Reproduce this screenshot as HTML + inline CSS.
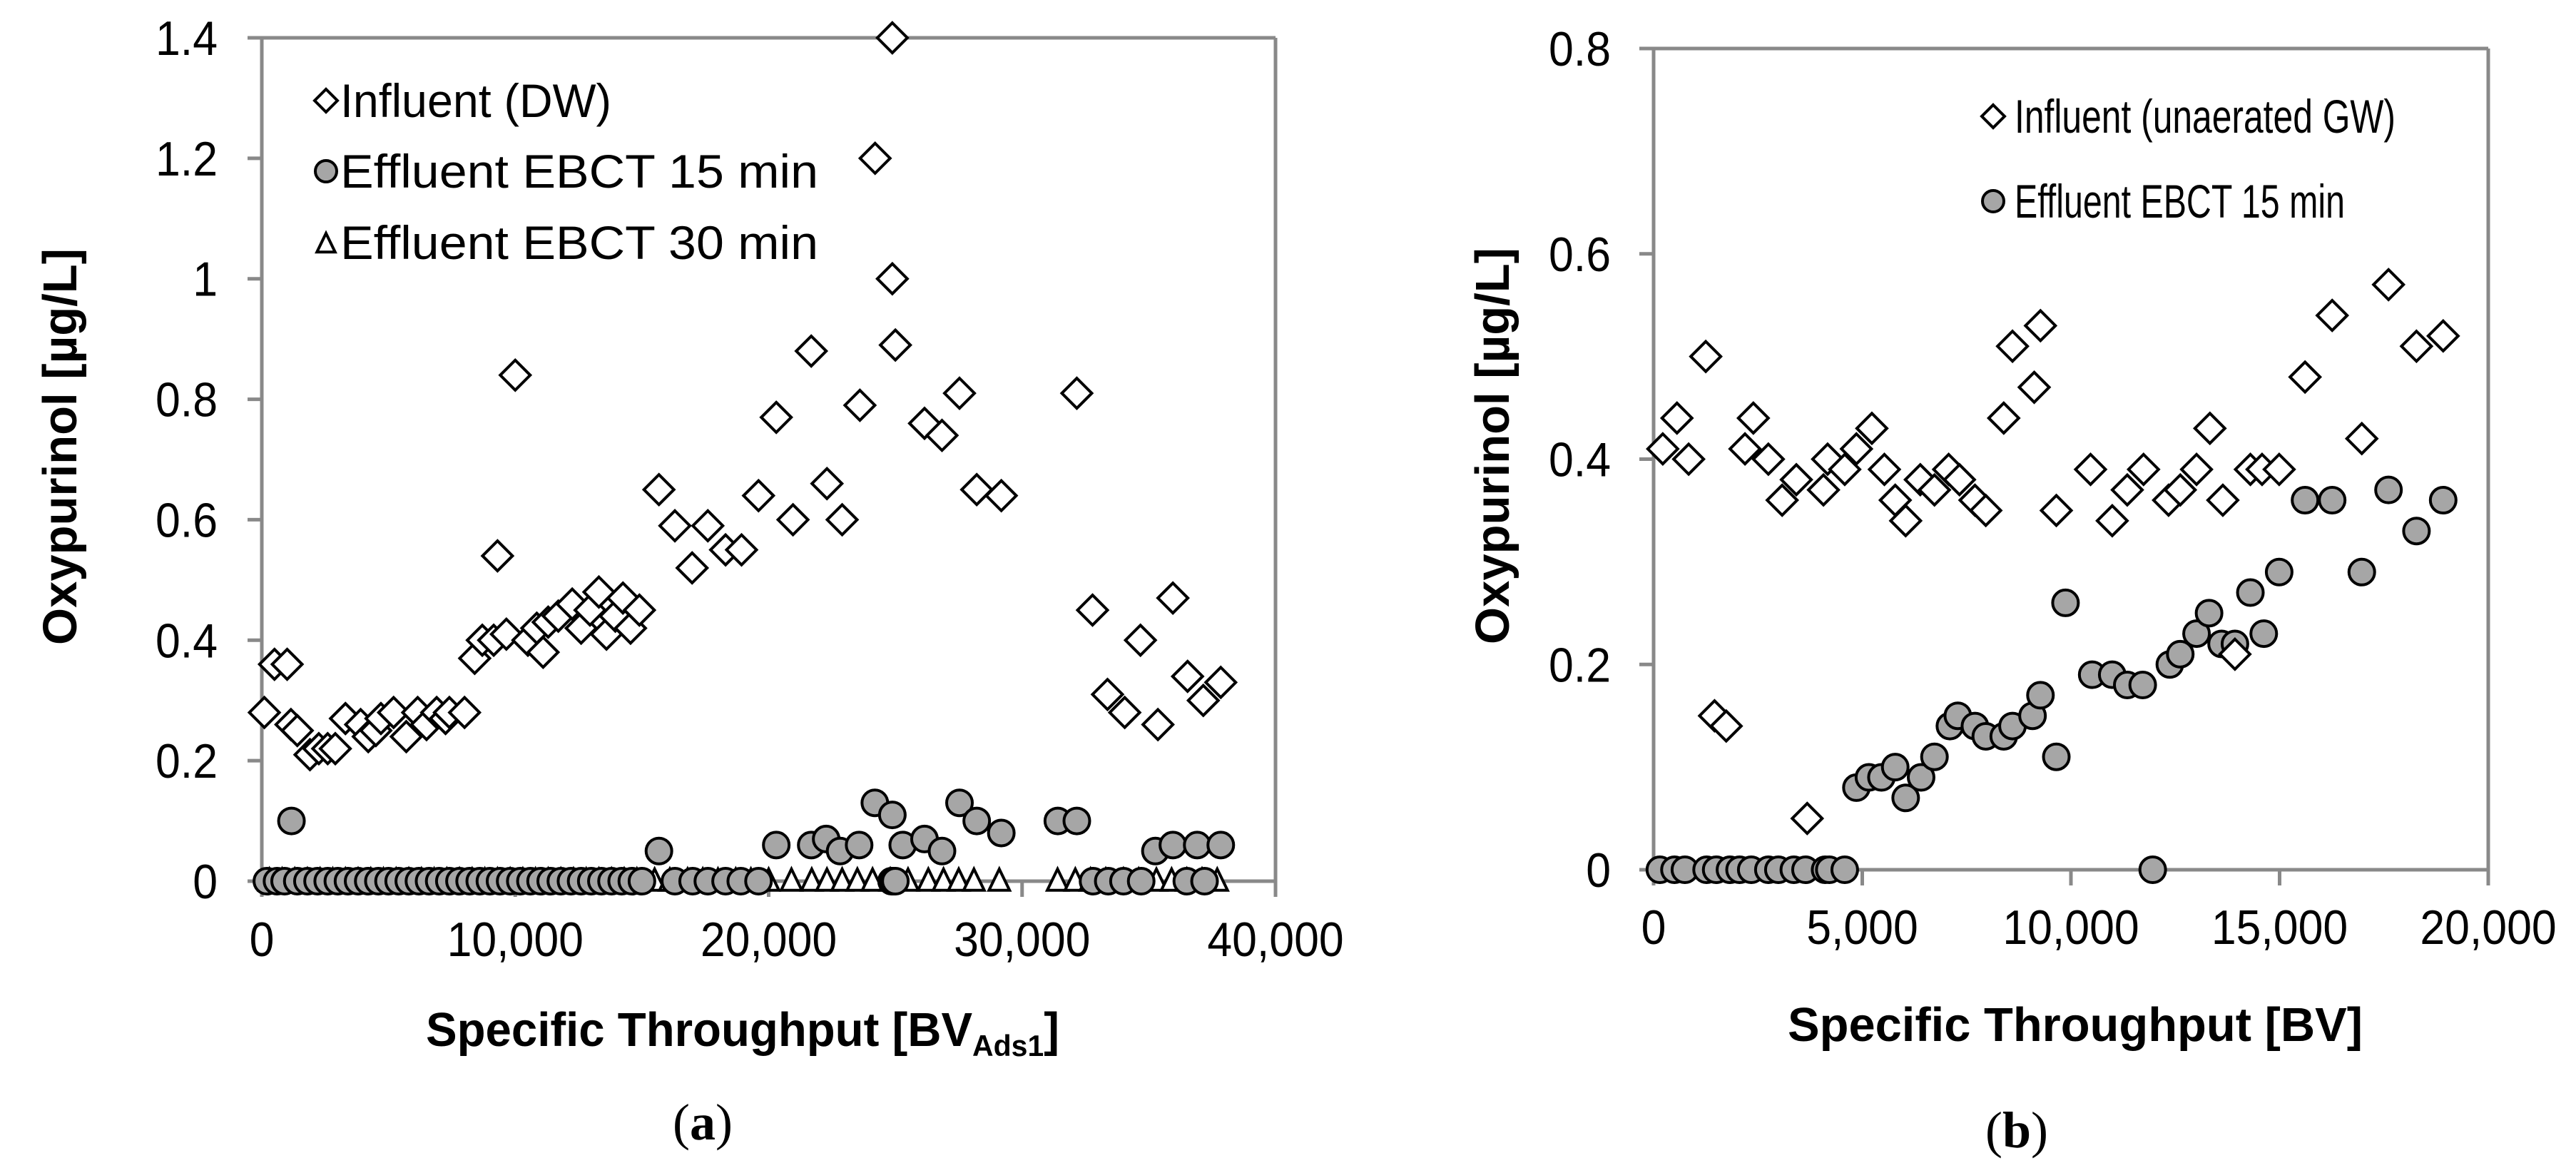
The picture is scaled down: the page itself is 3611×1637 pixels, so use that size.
<!DOCTYPE html>
<html><head><meta charset="utf-8"><title>Oxypurinol breakthrough</title>
<style>
html,body{margin:0;padding:0;background:#fff;}
svg{display:block;}
text{font-family:"Liberation Sans",Arial,sans-serif;fill:#000;}
</style></head>
<body>
<svg id="fig" width="3611" height="1637" viewBox="0 0 3611 1637" xmlns="http://www.w3.org/2000/svg">
  <g id="panelA"></g>
  <g id="panelB"></g>
  <text x="985" y="1597" text-anchor="middle" font-size="72" style="font-family:'Liberation Serif',serif">(<tspan font-weight="bold">a</tspan>)</text>
  <text x="2827" y="1608" text-anchor="middle" font-size="72" style="font-family:'Liberation Serif',serif">(<tspan font-weight="bold">b</tspan>)</text>
</svg>
<script>
// ---------- Panel (a) data ----------
const aInfluentX = [100,500,1000,1150,1400,1900,2250,2600,2900,3300,3900,4200,4500,4700,5200,5700,6150,6500,6900,7250,7400,8000,8400,8700,9150,9300,9650,10000,10500,10850,11100,11300,11700,12250,12600,12950,13300,13600,13950,14250,14550,14900,15670,16300,16980,17600,18300,18930,19600,20300,20960,21680,22300,22900,23600,24200,24880,24880,25000,26150,26840,27530,28210,29180,32160,32780,33370,34050,34670,35360,35950,36530,37150,37840];
const aInfluentY = [0.28,0.36,0.36,0.26,0.25,0.21,0.22,0.22,0.22,0.27,0.26,0.24,0.25,0.27,0.28,0.24,0.28,0.26,0.28,0.27,0.28,0.28,0.37,0.40,0.40,0.54,0.41,0.84,0.40,0.42,0.38,0.43,0.44,0.46,0.42,0.45,0.48,0.41,0.44,0.47,0.42,0.45,0.65,0.59,0.52,0.59,0.55,0.55,0.64,0.77,0.60,0.88,0.66,0.60,0.79,1.20,1.40,1.00,0.89,0.76,0.74,0.81,0.65,0.64,0.81,0.45,0.31,0.28,0.40,0.26,0.47,0.34,0.30,0.33];
const aEff15X = [200,600,900,1170,1400,1800,2200,2600,3000,3400,3800,4200,4600,5000,5400,5800,6200,6600,7000,7400,7800,8200,8600,9000,9400,9800,10200,10600,11000,11400,11800,12200,12600,13000,13400,13800,14200,14600,15000,15670,16300,17000,17600,18300,18900,19600,20300,21680,22270,22820,23570,24190,24850,24880,24900,24950,25000,25290,26150,26840,27530,28210,29180,31410,32160,32800,33400,34000,34700,35260,35950,36500,36910,37200,37840];
const aEff15Y = [0,0,0,0.10,0,0,0,0,0,0,0,0,0,0,0,0,0,0,0,0,0,0,0,0,0,0,0,0,0,0,0,0,0,0,0,0,0,0,0,0.05,0,0,0,0,0,0,0.06,0.06,0.07,0.05,0.06,0.13,0,0.11,0,0,0,0.06,0.07,0.05,0.13,0.10,0.08,0.10,0.10,0,0,0,0,0.05,0.06,0,0.06,0,0.06];
const aEff30X = [300,800,1300,1800,2300,2800,3300,3800,4300,4800,5300,5800,6300,6800,7300,7800,8300,8800,9300,9800,10300,10800,11300,11800,12300,12800,13300,13800,14300,14800,15500,16100,16800,17400,18000,18700,19300,20000,20900,21700,22300,22900,23500,24100,24800,25500,26300,26900,27500,28100,29100,31400,32100,32700,33300,34000,34600,35300,35900,36500,37100,37700];
const aEff30Y = aEff30X.map(function(){return 0;});
const aXTicks = [0,10000,20000,30000,40000];
const aXTickLabels = ["0","10,000","20,000","30,000","40,000"];
const aYTicks = [0,0.2,0.4,0.6,0.8,1,1.2,1.4];
const aYTickLabels = ["0","0.2","0.4","0.6","0.8","1","1.2","1.4"];
const aLegendLabels = ["Influent (DW)","Effluent EBCT 15 min","Effluent EBCT 30 min"];

// ---------- Panel (b) data ----------
const bInfluentX = [220,560,840,1250,1460,1740,2190,2390,2750,3080,3420,3680,4070,4170,4580,4860,5230,5530,5790,6040,6390,6730,7070,7330,7700,7960,8390,8600,9120,9270,9650,10470,10990,11350,11740,12340,12620,13010,13330,13640,13930,14300,14580,14990,15610,16260,16970,17610,18280,18920];
const bInfluentY = [0.41,0.44,0.40,0.50,0.15,0.14,0.41,0.44,0.40,0.36,0.38,0.05,0.37,0.40,0.39,0.41,0.43,0.39,0.36,0.34,0.38,0.37,0.39,0.38,0.36,0.35,0.44,0.51,0.47,0.53,0.35,0.39,0.34,0.37,0.39,0.36,0.37,0.39,0.43,0.36,0.21,0.39,0.39,0.39,0.48,0.54,0.42,0.57,0.51,0.52];
const bEff15X = [150,500,750,1270,1500,1830,2060,2340,2750,2990,3360,3640,4110,4210,4580,4860,5160,5460,5790,6040,6410,6730,7100,7290,7700,7960,8390,8600,9080,9270,9650,9870,10510,10990,11350,11720,11960,12370,12620,13010,13310,13610,13930,14300,14620,14990,15610,16260,16970,17610,18280,18920];
const bEff15Y = [0,0,0,0,0,0,0,0,0,0,0,0,0,0,0,0.08,0.09,0.09,0.10,0.07,0.09,0.11,0.14,0.15,0.14,0.13,0.13,0.14,0.15,0.17,0.11,0.26,0.19,0.19,0.18,0.18,0,0.20,0.21,0.23,0.25,0.22,0.22,0.27,0.23,0.29,0.36,0.36,0.29,0.37,0.33,0.36];
const bXTicks = [0,5000,10000,15000,20000];
const bXTickLabels = ["0","5,000","10,000","15,000","20,000"];
const bYTicks = [0,0.2,0.4,0.6,0.8];
const bYTickLabels = ["0","0.2","0.4","0.6","0.8"];
const bLegendLabels = ["Influent (unaerated GW)","Effluent EBCT 15 min"];

const NS = "http://www.w3.org/2000/svg";
const AXIS = "#898989";
function mk(parent, tag, attrs){
  const e = document.createElementNS(NS, tag);
  for (const k in attrs) e.setAttribute(k, attrs[k]);
  parent.appendChild(e);
  return e;
}
function condense(t, f){
  const w = t.getComputedTextLength();
  if (w > 0) {
    t.setAttribute("textLength", (w*f).toFixed(1));
    t.setAttribute("lengthAdjust", "spacingAndGlyphs");
  }
}
function scale(d0,d1,r0,r1){ return function(v){ return r0 + (v-d0)/(d1-d0)*(r1-r0); }; }

function diamond(g, cx, cy, r){
  return mk(g, "polygon", {points:(cx)+","+(cy-r)+" "+(cx+r)+","+cy+" "+cx+","+(cy+r)+" "+(cx-r)+","+cy, fill:"#fff", stroke:"#000", "stroke-width":4, "stroke-linejoin":"miter"});
}
function circle(g, cx, cy, r){
  return mk(g, "circle", {cx:cx, cy:cy, r:r, fill:"#a6a6a6", stroke:"#000", "stroke-width":4});
}
function triangle(g, cx, cy, r){
  return mk(g, "polygon", {points:cx+","+(cy-r)+" "+(cx+r*0.85)+","+(cy+r*0.75)+" "+(cx-r*0.85)+","+(cy+r*0.75), fill:"#fff", stroke:"#000", "stroke-width":4, "stroke-linejoin":"miter"});
}

function drawAxes(g, o){
  const x = o.x, y = o.y;
  const frame = mk(g, "g", {});
  
  
  mk(frame, "line", {x1:o.L, y1:o.T, x2:o.R, y2:o.T, stroke:AXIS, "stroke-width":5});
  mk(frame, "line", {x1:o.R, y1:o.T, x2:o.R, y2:o.B, stroke:AXIS, "stroke-width":5});
  const yg = mk(g, "g", {});
  
  
  o.yTicks.forEach(function(v,i){
    mk(yg, "line", {x1:o.L-20, y1:y(v), x2:o.L, y2:y(v), stroke:AXIS, "stroke-width":5});
    const t = mk(yg, "text", {x:o.yLabelRight, y:y(v)+24, "text-anchor":"end", "font-size":68});
    t.textContent = o.yLabels[i];
    
    
    condense(t, 0.92);
  });
  mk(yg, "line", {x1:o.L, y1:o.T-2, x2:o.L, y2:o.B+22, stroke:AXIS, "stroke-width":5});
  const xg = mk(g, "g", {});
  
  
  o.xTicks.forEach(function(v,i){
    mk(xg, "line", {x1:x(v), y1:o.B, x2:x(v), y2:o.B+22, stroke:AXIS, "stroke-width":5});
    const t = mk(xg, "text", {x:x(v), y:o.xLabelBase, "text-anchor":"middle", "font-size":68});
    t.textContent = o.xLabels[i];
    
    
    condense(t, 0.92);
  });
  mk(xg, "line", {x1:o.L-20, y1:o.B, x2:o.R, y2:o.B, stroke:AXIS, "stroke-width":5});
}

// ---------- Panel A ----------
(function(){
  const g = document.getElementById("panelA");
  const L=367, R=1788, T=53, B=1235;
  const x = scale(0,40000,L,R), y = scale(0,1.4,B,T);
  drawAxes(g, {L:L,R:R,T:T,B:B,x:x,y:y,xTicks:aXTicks,xLabels:aXTickLabels,yTicks:aYTicks,yLabels:aYTickLabels,yLabelRight:305,xLabelBase:1340});
  const s30 = mk(g,"g",{});
  
  
  aEff30X.forEach(function(v,i){ triangle(s30, x(v), y(aEff30Y[i]), 17); });
  const s15 = mk(g,"g",{});
  
  
  aEff15X.forEach(function(v,i){ circle(s15, x(v), y(aEff15Y[i]), 18); });
  const si = mk(g,"g",{});
  
  
  aInfluentX.forEach(function(v,i){ diamond(si, x(v), y(aInfluentY[i]), 21); });
  const lg = mk(g,"g",{});
  
  
  const rows = [141,240,340];
  const widths = [380,670,670];
  diamond(lg, 457, rows[0], 16);
  circle(lg, 457, rows[1], 15);
  triangle(lg, 457, rows[2]+2, 15);
  aLegendLabels.forEach(function(lbl,i){
    const t = mk(lg,"text",{x:477, y:rows[i]+23, "font-size":66, textLength:widths[i], lengthAdjust:"spacingAndGlyphs"});
    t.textContent = lbl;
    
    
  });
  const yt = mk(g,"text",{x:0,y:0,"font-size":67,"font-weight":"bold","text-anchor":"middle",transform:"translate(107,626) rotate(-90)",textLength:556,lengthAdjust:"spacingAndGlyphs"});
  yt.textContent = "Oxypurinol [µg/L]";
  
  
  const xt = mk(g,"text",{x:597,y:1466,"font-size":67,"font-weight":"bold",textLength:888,lengthAdjust:"spacingAndGlyphs"});
  xt.innerHTML = 'Specific Throughput [BV<tspan font-size="42" dy="14">Ads1</tspan><tspan dy="-14">]</tspan>';
  
  
})();

// ---------- Panel B ----------
(function(){
  const g = document.getElementById("panelB");
  const L=2318, R=3488, T=68, B=1219;
  const x = scale(0,20000,L,R), y = scale(0,0.8,B,T);
  drawAxes(g, {L:L,R:R,T:T,B:B,x:x,y:y,xTicks:bXTicks,xLabels:bXTickLabels,yTicks:bYTicks,yLabels:bYTickLabels,yLabelRight:2258,xLabelBase:1323});
  const s15 = mk(g,"g",{});
  
  
  bEff15X.forEach(function(v,i){ circle(s15, x(v), y(bEff15Y[i]), 18); });
  const si = mk(g,"g",{});
  
  
  bInfluentX.forEach(function(v,i){ diamond(si, x(v), y(bInfluentY[i]), 21); });
  const lg = mk(g,"g",{});
  
  
  const rows = [163,282];
  const widths = [534,463];
  diamond(lg, 2794, rows[0], 16);
  circle(lg, 2794, rows[1], 15);
  bLegendLabels.forEach(function(lbl,i){
    const t = mk(lg,"text",{x:2824, y:rows[i]+23, "font-size":66, textLength:widths[i], lengthAdjust:"spacingAndGlyphs"});
    t.textContent = lbl;
    
    
  });
  const yt = mk(g,"text",{x:0,y:0,"font-size":67,"font-weight":"bold","text-anchor":"middle",transform:"translate(2115,625) rotate(-90)",textLength:556,lengthAdjust:"spacingAndGlyphs"});
  yt.textContent = "Oxypurinol [µg/L]";
  
  
  const xt = mk(g,"text",{x:2506,y:1459,"font-size":67,"font-weight":"bold",textLength:806,lengthAdjust:"spacingAndGlyphs"});
  xt.textContent = "Specific Throughput [BV]";
  
  
})();
</script>
</body></html>
